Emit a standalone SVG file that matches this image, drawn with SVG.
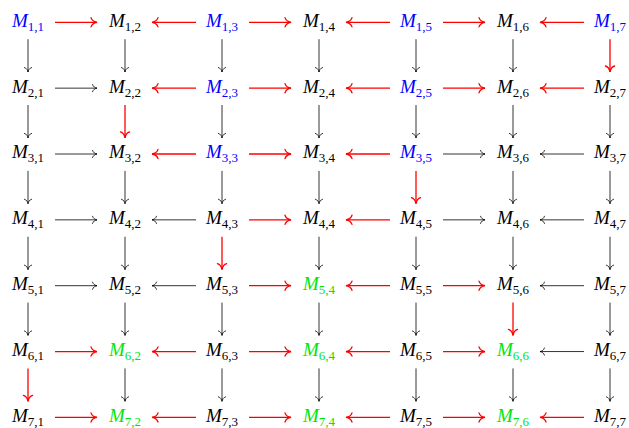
<svg xmlns="http://www.w3.org/2000/svg" width="629" height="428" viewBox="0 0 629 428">
<style>
text{font-family:"Liberation Serif","Times New Roman",serif;font-size:19px;text-anchor:middle;fill:#000}
.m{font-style:italic}
.s{font-size:13px}
.b{fill:#0000ff}
.g{fill:#00e600}
.k{stroke:#000;stroke-width:0.8;fill:none;marker-end:url(#hk)}
.r{stroke:#ff0000;stroke-width:1.3;fill:none;marker-end:url(#hr)}
</style>
<defs>
<marker id="hk" markerUnits="userSpaceOnUse" orient="auto" refX="0" refY="0" markerWidth="10" markerHeight="10" overflow="visible">
<path d="M-4.5,-3.6 C-3.9,-1.3 -1.6,-0.3 0,0 C-1.6,0.3 -3.9,1.3 -4.5,3.6" fill="none" stroke="#000" stroke-width="0.8" stroke-linecap="round"/>
</marker>
<marker id="hr" markerUnits="userSpaceOnUse" orient="auto" refX="0" refY="0" markerWidth="10" markerHeight="10" overflow="visible">
<path d="M-6,-4.6 C-5.2,-1.6 -2.2,-0.4 0,0 C-2.2,0.4 -5.2,1.6 -6,4.6" fill="none" stroke="#ff0000" stroke-width="1.3" stroke-linecap="round"/>
</marker>
</defs>
<g id="connectors">
<!-- row 1 -->
<line class="r" x1="55" y1="22.3" x2="97" y2="22.3"/>
<line class="r" x1="196" y1="22.3" x2="152" y2="22.3"/>
<line class="r" x1="249" y1="22.3" x2="291" y2="22.3"/>
<line class="r" x1="390" y1="22.3" x2="346" y2="22.3"/>
<line class="r" x1="443" y1="22.3" x2="485" y2="22.3"/>
<line class="r" x1="584" y1="22.3" x2="540" y2="22.3"/>
<!-- row 2 -->
<line class="k" x1="55" y1="88.15" x2="97" y2="88.15"/>
<line class="r" x1="196" y1="88.15" x2="152" y2="88.15"/>
<line class="r" x1="249" y1="88.15" x2="291" y2="88.15"/>
<line class="r" x1="390" y1="88.15" x2="346" y2="88.15"/>
<line class="r" x1="443" y1="88.15" x2="485" y2="88.15"/>
<line class="r" x1="584" y1="88.15" x2="540" y2="88.15"/>
<!-- row 3 -->
<line class="k" x1="55" y1="154" x2="97" y2="154"/>
<line class="r" x1="196" y1="154" x2="152" y2="154"/>
<line class="r" x1="249" y1="154" x2="291" y2="154"/>
<line class="r" x1="390" y1="154" x2="346" y2="154"/>
<line class="k" x1="443" y1="154" x2="485" y2="154"/>
<line class="k" x1="584" y1="154" x2="540" y2="154"/>
<!-- row 4 -->
<line class="k" x1="55" y1="219.85" x2="97" y2="219.85"/>
<line class="k" x1="196" y1="219.85" x2="152" y2="219.85"/>
<line class="r" x1="249" y1="219.85" x2="291" y2="219.85"/>
<line class="r" x1="390" y1="219.85" x2="346" y2="219.85"/>
<line class="k" x1="443" y1="219.85" x2="485" y2="219.85"/>
<line class="k" x1="584" y1="219.85" x2="540" y2="219.85"/>
<!-- row 5 -->
<line class="k" x1="55" y1="285.7" x2="97" y2="285.7"/>
<line class="k" x1="196" y1="285.7" x2="152" y2="285.7"/>
<line class="r" x1="249" y1="285.7" x2="291" y2="285.7"/>
<line class="r" x1="390" y1="285.7" x2="346" y2="285.7"/>
<line class="r" x1="443" y1="285.7" x2="485" y2="285.7"/>
<line class="k" x1="584" y1="285.7" x2="540" y2="285.7"/>
<!-- row 6 -->
<line class="r" x1="55" y1="351.55" x2="97" y2="351.55"/>
<line class="r" x1="196" y1="351.55" x2="152" y2="351.55"/>
<line class="r" x1="249" y1="351.55" x2="291" y2="351.55"/>
<line class="r" x1="390" y1="351.55" x2="346" y2="351.55"/>
<line class="r" x1="443" y1="351.55" x2="485" y2="351.55"/>
<line class="k" x1="584" y1="351.55" x2="540" y2="351.55"/>
<!-- row 7 -->
<line class="r" x1="55" y1="417.4" x2="97" y2="417.4"/>
<line class="r" x1="196" y1="417.4" x2="152" y2="417.4"/>
<line class="r" x1="249" y1="417.4" x2="291" y2="417.4"/>
<line class="r" x1="390" y1="417.4" x2="346" y2="417.4"/>
<line class="r" x1="443" y1="417.4" x2="485" y2="417.4"/>
<line class="r" x1="584" y1="417.4" x2="540" y2="417.4"/>
<!-- verticals 1-2 -->
<line class="k" x1="28" y1="39.2" x2="28" y2="72"/>
<line class="k" x1="125" y1="39.2" x2="125" y2="72"/>
<line class="k" x1="222" y1="39.2" x2="222" y2="72"/>
<line class="k" x1="319" y1="39.2" x2="319" y2="72"/>
<line class="k" x1="416" y1="39.2" x2="416" y2="72"/>
<line class="k" x1="513" y1="39.2" x2="513" y2="72"/>
<line class="r" x1="610" y1="39.2" x2="610" y2="72"/>
<!-- verticals 2-3 -->
<line class="k" x1="28" y1="105" x2="28" y2="137.9"/>
<line class="r" x1="125" y1="105" x2="125" y2="137.9"/>
<line class="k" x1="222" y1="105" x2="222" y2="137.9"/>
<line class="k" x1="319" y1="105" x2="319" y2="137.9"/>
<line class="k" x1="416" y1="105" x2="416" y2="137.9"/>
<line class="k" x1="513" y1="105" x2="513" y2="137.9"/>
<line class="k" x1="610" y1="105" x2="610" y2="137.9"/>
<!-- verticals 3-4 -->
<line class="k" x1="28" y1="170.9" x2="28" y2="203.7"/>
<line class="k" x1="125" y1="170.9" x2="125" y2="203.7"/>
<line class="k" x1="222" y1="170.9" x2="222" y2="203.7"/>
<line class="k" x1="319" y1="170.9" x2="319" y2="203.7"/>
<line class="r" x1="416" y1="170.9" x2="416" y2="203.7"/>
<line class="k" x1="513" y1="170.9" x2="513" y2="203.7"/>
<line class="k" x1="610" y1="170.9" x2="610" y2="203.7"/>
<!-- verticals 4-5 -->
<line class="k" x1="28" y1="236.7" x2="28" y2="269.6"/>
<line class="k" x1="125" y1="236.7" x2="125" y2="269.6"/>
<line class="r" x1="222" y1="236.7" x2="222" y2="269.6"/>
<line class="k" x1="319" y1="236.7" x2="319" y2="269.6"/>
<line class="k" x1="416" y1="236.7" x2="416" y2="269.6"/>
<line class="k" x1="513" y1="236.7" x2="513" y2="269.6"/>
<line class="k" x1="610" y1="236.7" x2="610" y2="269.6"/>
<!-- verticals 5-6 -->
<line class="k" x1="28" y1="302.6" x2="28" y2="335.4"/>
<line class="k" x1="125" y1="302.6" x2="125" y2="335.4"/>
<line class="k" x1="222" y1="302.6" x2="222" y2="335.4"/>
<line class="k" x1="319" y1="302.6" x2="319" y2="335.4"/>
<line class="k" x1="416" y1="302.6" x2="416" y2="335.4"/>
<line class="r" x1="513" y1="302.6" x2="513" y2="335.4"/>
<line class="k" x1="610" y1="302.6" x2="610" y2="335.4"/>
<!-- verticals 6-7 -->
<line class="r" x1="28" y1="368.4" x2="28" y2="401.3"/>
<line class="k" x1="125" y1="368.4" x2="125" y2="401.3"/>
<line class="k" x1="222" y1="368.4" x2="222" y2="401.3"/>
<line class="k" x1="319" y1="368.4" x2="319" y2="401.3"/>
<line class="k" x1="416" y1="368.4" x2="416" y2="401.3"/>
<line class="k" x1="513" y1="368.4" x2="513" y2="401.3"/>
<line class="k" x1="610" y1="368.4" x2="610" y2="401.3"/>
</g>
<!-- row 1 -->
<g id="n11"><text class="b" x="28" y="26.7"><tspan class="m">M</tspan><tspan class="s" dy="4">1,1</tspan></text></g>
<g id="n12"><text x="125" y="26.7"><tspan class="m">M</tspan><tspan class="s" dy="4">1,2</tspan></text></g>
<g id="n13"><text class="b" x="222" y="26.7"><tspan class="m">M</tspan><tspan class="s" dy="4">1,3</tspan></text></g>
<g id="n14"><text x="319" y="26.7"><tspan class="m">M</tspan><tspan class="s" dy="4">1,4</tspan></text></g>
<g id="n15"><text class="b" x="416" y="26.7"><tspan class="m">M</tspan><tspan class="s" dy="4">1,5</tspan></text></g>
<g id="n16"><text x="513" y="26.7"><tspan class="m">M</tspan><tspan class="s" dy="4">1,6</tspan></text></g>
<g id="n17"><text class="b" x="610" y="26.7"><tspan class="m">M</tspan><tspan class="s" dy="4">1,7</tspan></text></g>
<!-- row 2 -->
<g id="n21"><text x="28" y="92.55"><tspan class="m">M</tspan><tspan class="s" dy="4">2,1</tspan></text></g>
<g id="n22"><text x="125" y="92.55"><tspan class="m">M</tspan><tspan class="s" dy="4">2,2</tspan></text></g>
<g id="n23"><text class="b" x="222" y="92.55"><tspan class="m">M</tspan><tspan class="s" dy="4">2,3</tspan></text></g>
<g id="n24"><text x="319" y="92.55"><tspan class="m">M</tspan><tspan class="s" dy="4">2,4</tspan></text></g>
<g id="n25"><text class="b" x="416" y="92.55"><tspan class="m">M</tspan><tspan class="s" dy="4">2,5</tspan></text></g>
<g id="n26"><text x="513" y="92.55"><tspan class="m">M</tspan><tspan class="s" dy="4">2,6</tspan></text></g>
<g id="n27"><text x="610" y="92.55"><tspan class="m">M</tspan><tspan class="s" dy="4">2,7</tspan></text></g>
<!-- row 3 -->
<g id="n31"><text x="28" y="158.4"><tspan class="m">M</tspan><tspan class="s" dy="4">3,1</tspan></text></g>
<g id="n32"><text x="125" y="158.4"><tspan class="m">M</tspan><tspan class="s" dy="4">3,2</tspan></text></g>
<g id="n33"><text class="b" x="222" y="158.4"><tspan class="m">M</tspan><tspan class="s" dy="4">3,3</tspan></text></g>
<g id="n34"><text x="319" y="158.4"><tspan class="m">M</tspan><tspan class="s" dy="4">3,4</tspan></text></g>
<g id="n35"><text class="b" x="416" y="158.4"><tspan class="m">M</tspan><tspan class="s" dy="4">3,5</tspan></text></g>
<g id="n36"><text x="513" y="158.4"><tspan class="m">M</tspan><tspan class="s" dy="4">3,6</tspan></text></g>
<g id="n37"><text x="610" y="158.4"><tspan class="m">M</tspan><tspan class="s" dy="4">3,7</tspan></text></g>
<!-- row 4 -->
<g id="n41"><text x="28" y="224.25"><tspan class="m">M</tspan><tspan class="s" dy="4">4,1</tspan></text></g>
<g id="n42"><text x="125" y="224.25"><tspan class="m">M</tspan><tspan class="s" dy="4">4,2</tspan></text></g>
<g id="n43"><text x="222" y="224.25"><tspan class="m">M</tspan><tspan class="s" dy="4">4,3</tspan></text></g>
<g id="n44"><text x="319" y="224.25"><tspan class="m">M</tspan><tspan class="s" dy="4">4,4</tspan></text></g>
<g id="n45"><text x="416" y="224.25"><tspan class="m">M</tspan><tspan class="s" dy="4">4,5</tspan></text></g>
<g id="n46"><text x="513" y="224.25"><tspan class="m">M</tspan><tspan class="s" dy="4">4,6</tspan></text></g>
<g id="n47"><text x="610" y="224.25"><tspan class="m">M</tspan><tspan class="s" dy="4">4,7</tspan></text></g>
<!-- row 5 -->
<g id="n51"><text x="28" y="290.1"><tspan class="m">M</tspan><tspan class="s" dy="4">5,1</tspan></text></g>
<g id="n52"><text x="125" y="290.1"><tspan class="m">M</tspan><tspan class="s" dy="4">5,2</tspan></text></g>
<g id="n53"><text x="222" y="290.1"><tspan class="m">M</tspan><tspan class="s" dy="4">5,3</tspan></text></g>
<g id="n54"><text class="g" x="319" y="290.1"><tspan class="m">M</tspan><tspan class="s" dy="4">5,4</tspan></text></g>
<g id="n55"><text x="416" y="290.1"><tspan class="m">M</tspan><tspan class="s" dy="4">5,5</tspan></text></g>
<g id="n56"><text x="513" y="290.1"><tspan class="m">M</tspan><tspan class="s" dy="4">5,6</tspan></text></g>
<g id="n57"><text x="610" y="290.1"><tspan class="m">M</tspan><tspan class="s" dy="4">5,7</tspan></text></g>
<!-- row 6 -->
<g id="n61"><text x="28" y="355.95"><tspan class="m">M</tspan><tspan class="s" dy="4">6,1</tspan></text></g>
<g id="n62"><text class="g" x="125" y="355.95"><tspan class="m">M</tspan><tspan class="s" dy="4">6,2</tspan></text></g>
<g id="n63"><text x="222" y="355.95"><tspan class="m">M</tspan><tspan class="s" dy="4">6,3</tspan></text></g>
<g id="n64"><text class="g" x="319" y="355.95"><tspan class="m">M</tspan><tspan class="s" dy="4">6,4</tspan></text></g>
<g id="n65"><text x="416" y="355.95"><tspan class="m">M</tspan><tspan class="s" dy="4">6,5</tspan></text></g>
<g id="n66"><text class="g" x="513" y="355.95"><tspan class="m">M</tspan><tspan class="s" dy="4">6,6</tspan></text></g>
<g id="n67"><text x="610" y="355.95"><tspan class="m">M</tspan><tspan class="s" dy="4">6,7</tspan></text></g>
<!-- row 7 -->
<g id="n71"><text x="28" y="421.8"><tspan class="m">M</tspan><tspan class="s" dy="4">7,1</tspan></text></g>
<g id="n72"><text class="g" x="125" y="421.8"><tspan class="m">M</tspan><tspan class="s" dy="4">7,2</tspan></text></g>
<g id="n73"><text x="222" y="421.8"><tspan class="m">M</tspan><tspan class="s" dy="4">7,3</tspan></text></g>
<g id="n74"><text class="g" x="319" y="421.8"><tspan class="m">M</tspan><tspan class="s" dy="4">7,4</tspan></text></g>
<g id="n75"><text x="416" y="421.8"><tspan class="m">M</tspan><tspan class="s" dy="4">7,5</tspan></text></g>
<g id="n76"><text class="g" x="513" y="421.8"><tspan class="m">M</tspan><tspan class="s" dy="4">7,6</tspan></text></g>
<g id="n77"><text x="610" y="421.8"><tspan class="m">M</tspan><tspan class="s" dy="4">7,7</tspan></text></g>
</svg>
